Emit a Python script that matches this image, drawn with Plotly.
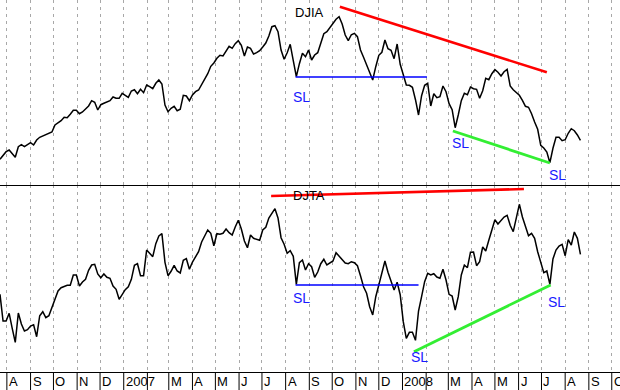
import pandas as pd
import plotly.graph_objects as go

# ---- data (levels, relative units; higher = higher index) ----
start_date = "2006-07-23"
step = "4D"

djia = [25.7, 29.7, 33.3, 35, 31.7, 27.7, 38.3, 40.3, 38.3, 40.7,
        42.3, 40, 45, 47.7, 49, 50.3, 51, 53, 60, 62.3,
        64.3, 67.7, 67.3, 70.7, 74.7, 74.7, 71.3, 73, 76, 79,
        84.3, 82.7, 75, 80.3, 81.7, 82.7, 84.3, 88, 86.7, 86.7,
        91.7, 89.7, 87.7, 94, 95.3, 91.3, 95.7, 92.3, 100, 98.3,
        96.3, 101.7, 105, 101, 80, 73.3, 76.7, 78.7, 74.3, 75.7,
        89.7, 89, 84.3, 90, 93.3, 95, 100.7, 107,
        111.3, 118.7, 122, 126.7, 129.7, 129, 134, 138.7, 136.7, 141.3,
        144.3, 139.7, 129, 138, 136.7, 131, 132.3, 134.3, 138, 142,
        149, 158.3, 159.3, 153.3, 135, 125.7, 132.3, 140.7, 124.3, 108.3,
        121.3, 131.7, 128.3, 135, 125, 130, 132.3, 143, 151.3, 153.3,
        157.7, 162.3, 165.7, 168.3, 161, 150, 144.3, 150.3, 151.7, 148.3,
        135, 127.7, 119.7, 113.7, 105, 118.3, 129.7, 132.7, 145, 136.3,
        134.7, 126.3, 141, 120.7, 109.7, 100, 99.7, 97.7,
        85.3, 70, 89.3, 99.7, 101.7, 79, 91.3, 87.3, 88.3, 99,
        93.3, 81.3, 75.3, 57.3, 70, 84.3, 91.7, 90.3, 98, 96.3,
        95.7, 86.7, 94.3, 106.7, 105.3, 111.3, 115.3, 112.7, 109, 113.3,
        115.7, 99, 95.3, 92.7, 89.7, 84.7, 78.7, 77.7, 71.3, 63,
        55.7, 39.7, 37, 33, 22.3, 36.7, 47.7, 47.7, 44.3, 45.3,
        51.7, 56.3, 54.3, 50, 44.7]

djta = [77.7, 51, 51, 58.7, 43.7, 29.7, 59, 48, 41, 42.3,
        46, 47.3, 35.3, 56.3, 60.3, 54.3, 56.3, 64, 72, 81,
        84.3, 85.7, 86.7, 86.7, 97, 97, 86, 90, 92.7, 101.7,
        107, 107.7, 98, 94.3, 98, 94.7, 93.7, 86, 82.7, 72.7,
        78, 82.3, 85.3, 92.7, 106.7, 108.3, 96.3, 96.3, 122, 118.3,
        115.3, 128.3, 136, 138.3, 109.7, 96.3, 100.7, 106.7, 101, 99,
        111.7, 113.3, 102.7, 110, 115.7, 120.3, 130, 136,
        142, 138.7, 126.3, 138.3, 137.7, 138.7, 143, 139.3, 137, 145,
        151.7, 143, 131, 124.3, 137, 133.7, 132.7, 131.7, 142, 144.7,
        154, 158.7, 163.3, 154, 134.3, 127.7, 118.7, 121.3, 115.7, 87.7,
        109.3, 112, 102, 108.3, 105.3, 94.7, 100, 108.3, 112.7, 107,
        109, 111, 119.3, 115.7, 112.7, 109, 108.3, 110.3, 109.3, 106.3,
        96.3, 85.3, 78.7, 65.3, 57, 75.3, 87, 99.7, 111, 99.7,
        90.3, 82, 89.7, 77.3, 50.3, 33.7, 39.7, 39.7,
        31.7, 61, 75.3, 90.3, 98.7, 97, 98.3, 95, 93.7, 102.7,
        92, 77.7, 76, 62, 75.3, 97, 107, 104.3, 119.7, 120,
        106.3, 110.3, 125, 121, 131.7, 141, 152.3, 148, 151, 155,
        156.7, 146.7, 140.3, 155.7, 167.7, 155, 145.7, 136.3, 138.7, 133.7,
        120.3, 108.7, 99.3, 101, 87.7, 113, 122, 126, 127.7, 116.3,
        132.3, 127, 140, 133.7, 117.7]

month_starts = pd.date_range("2006-08-01", "2008-10-01", freq="MS")
month_labels = ["A", "S", "O", "N", "D", "2007", "", "M", "A", "M", "J", "J",
                "A", "S", "O", "N", "D", "2008", "", "M", "A", "M", "J", "J",
                "A", "S", "O"]

# trend lines: (dates, levels)
djia_resist = (["2007-10-11", "2008-07-08"], [178.3, 112.7])
djia_sl_flat = (["2007-08-14", "2008-02-02"], [108, 108])
djia_sl_down = (["2008-03-07", "2008-07-12"], [54, 22])
djta_resist = (["2007-07-13", "2008-06-08"], [176, 183])
djta_sl_flat = (["2007-08-14", "2008-01-22"], [87, 87])
djta_sl_up = (["2008-01-16", "2008-07-13"], [20.3, 87])

dates = pd.date_range(start_date, periods=len(djia), freq=step)

W, H = 620, 390
top_split = 1 - 185 / H
bot_edge = 1 - 372 / H

fig = go.Figure()
fig.add_trace(go.Scatter(x=dates, y=djia, mode="lines",
                         line=dict(color="black", width=1.5), xaxis="x", yaxis="y"))
fig.add_trace(go.Scatter(x=dates, y=djta, mode="lines",
                         line=dict(color="black", width=1.5), xaxis="x2", yaxis="y2"))

def seg(tl, color, width, ax, ay):
    fig.add_trace(go.Scatter(x=tl[0], y=tl[1], mode="lines",
                             line=dict(color=color, width=width), xaxis=ax, yaxis=ay))

seg(djia_resist, "#ff0000", 2.6, "x", "y")
seg(djia_sl_flat, "#0000ff", 1.4, "x", "y")
seg(djia_sl_down, "#33ee33", 2.8, "x", "y")
seg(djta_resist, "#ff0000", 2.6, "x2", "y2")
seg(djta_sl_flat, "#0000ff", 1.4, "x2", "y2")
seg(djta_sl_up, "#33ee33", 2.8, "x2", "y2")

xr = ["2006-07-23", "2008-10-11 19:00"]
grid = dict(showgrid=True, gridcolor="#a8a8a8", griddash="3px,4px", gridwidth=1,
            dtick="M1", tick0="2006-08-01", showticklabels=False, ticks="",
            zeroline=False, showline=False, range=xr, type="date")

annotations = []
font = dict(family="Arial, Liberation Sans", size=13, color="black")
for d, lab in zip(month_starts, month_labels):
    if lab:
        annotations.append(dict(x=d, y=(H - 381) / H, xref="x", yref="paper",
                                text=lab, showarrow=False, xanchor="left",
                                yanchor="middle", xshift=0, font=font))

blue = dict(family="Arial, Liberation Sans", size=14, color="#1a1aff")
for x, y, ay in [("2007-08-22", 88, "y"), ("2008-03-17", 42, "y"), ("2008-07-22", 10, "y"),
                 ("2007-08-22", 74, "y2"), ("2008-01-23", 15, "y2"), ("2008-07-20", 70, "y2")]:
    annotations.append(dict(x=x, y=y, xref="x" if ay == "y" else "x2", yref=ay, text="SL",
                            showarrow=False, font=blue))
annotations.append(dict(x="2007-09-01", y=173, xref="x", yref="y", text="DJIA",
                        showarrow=False, font=font))
annotations.append(dict(x="2007-09-01", y=177, xref="x2", yref="y2", text="DJTA",
                        showarrow=False, font=font))

hl1 = 1 - 185.5 / H
hl2 = 1 - 372.5 / H
shapes = [
    dict(type="line", xref="paper", yref="paper", x0=0, x1=1, y0=hl1, y1=hl1,
         line=dict(color="black", width=1)),
    dict(type="line", xref="paper", yref="paper", x0=0, x1=1, y0=hl2, y1=hl2,
         line=dict(color="black", width=1)),
]
for d in month_starts:
    shapes.append(dict(type="line", xref="x", yref="paper", x0=d, x1=d, y0=0, y1=hl2,
                       line=dict(color="black", width=1)))

fig.update_layout(
    width=W, height=H, margin=dict(l=0, r=0, t=0, b=0),
    paper_bgcolor="white", plot_bgcolor="white", showlegend=False,
    xaxis=dict(anchor="y", domain=[0, 1], **grid),
    xaxis2=dict(anchor="y2", domain=[0, 1], matches="x", **grid),
    yaxis=dict(domain=[top_split, 1], range=[0, 185], showgrid=False, zeroline=False,
               showticklabels=False, ticks=""),
    yaxis2=dict(domain=[bot_edge, top_split], range=[0, 187], showgrid=False, zeroline=False,
                showticklabels=False, ticks=""),
    annotations=annotations, shapes=shapes,
)

fig.write_html("out.html", config={"displayModeBar": False},
               post_script="document.body.style.margin='0';document.body.style.overflow='hidden';")
